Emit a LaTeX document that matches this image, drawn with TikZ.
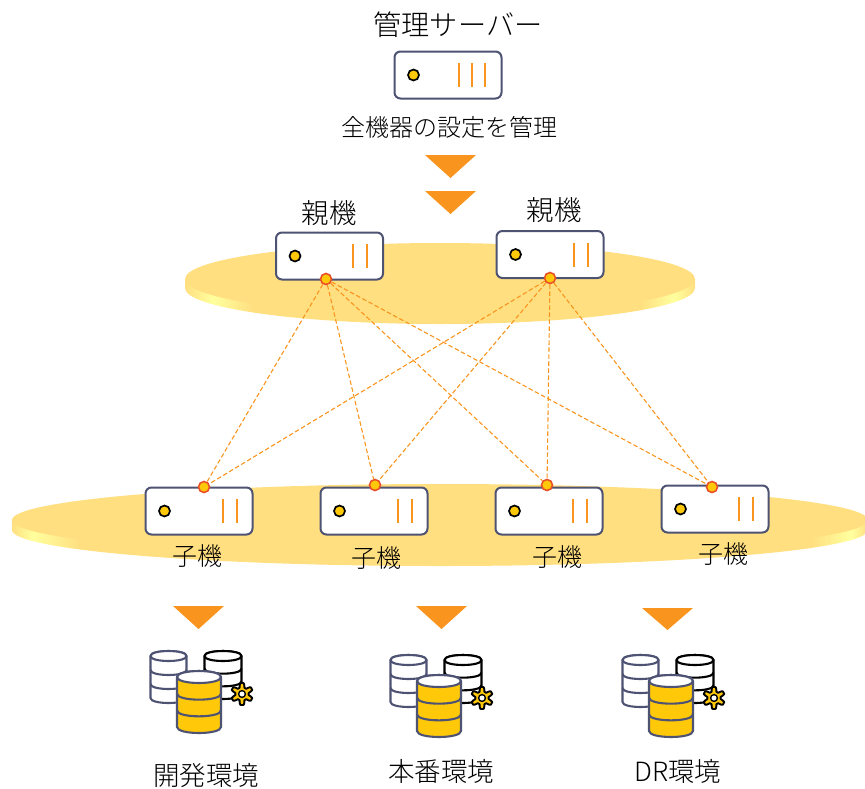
\documentclass[tikz,border=0pt]{standalone}
\usepackage{fontspec}
\setmainfont{Noto Sans CJK JP}[UprightFont=* Light]
\definecolor{diskc}{HTML}{FFDF80}
\definecolor{diskl}{HTML}{FFFF9E}
\definecolor{box}{HTML}{4F5373}
\definecolor{org}{HTML}{F9951F}
\definecolor{yel}{HTML}{FFC90A}
\definecolor{red1}{HTML}{E8502A}
\pgfdeclarehorizontalshading{diskA}{100bp}{color(0bp)=(diskc); color(25bp)=(diskc); color(27.7bp)=(diskl); color(31.7bp)=(diskc); color(69.6bp)=(diskc); color(73bp)=(diskl); color(75bp)=(diskc); color(100bp)=(diskc)}
\pgfdeclarehorizontalshading{diskB}{100bp}{color(0bp)=(diskc); color(25bp)=(diskc); color(26.2bp)=(diskl); color(29bp)=(diskc); color(71.7bp)=(diskc); color(74bp)=(diskl); color(75bp)=(diskc); color(100bp)=(diskc)}
\tikzset{
  srv/.style={draw=box,fill=white,line width=2pt,rounded corners=6pt,minimum width=107pt,minimum height=47pt,inner sep=0pt},
  leddot/.style={circle,draw=black,fill=yel,line width=1.7pt,minimum size=11pt,inner sep=0pt},
  link/.style={circle,draw=red1,fill=yel,line width=1.6pt,minimum size=11pt,inner sep=0pt},
  tick/.style={draw=org,line width=2pt},
  wire/.style={draw=org,line width=1.1pt,dash pattern=on 4.5pt off 2.5pt},
  tri/.style={fill=org},
  txt/.style={inner sep=0pt,text=black},
  big/.style={txt,font=\fontsize{26.5}{30}\selectfont},
  mid/.style={txt,font=\fontsize{24}{28}\selectfont},
  cyl/.style={line width=2.1pt,line join=round},
}
% name, cx, cy, list of tick offsets
\newcommand{\srvbox}[4]{%
  \node[srv] (#1) at (#2,#3) {};
  \node[leddot] (#1-led) at (#2-34.5,#3) {};
  \foreach \q in {#4} \draw[tick] (#2+\q,#3-12) -- (#2+\q,#3+12);
}
% cx, top, rx, ry, height, fill, stroke
\newcommand{\cylinder}[7]{%
  \path[cyl,fill=#6,draw=#7] (#1-#3,#2) -- (#1-#3,#2+#5)
    .. controls (#1-#3,#2+#5+1.33*#4) and (#1+#3,#2+#5+1.33*#4) .. (#1+#3,#2+#5)
    -- (#1+#3,#2) .. controls (#1+#3,#2-1.33*#4) and (#1-#3,#2-1.33*#4) .. (#1-#3,#2) -- cycle;
  \path[cyl,fill=white,draw=#7] (#1-#3,#2)
    .. controls (#1-#3,#2+1.33*#4) and (#1+#3,#2+1.33*#4) .. (#1+#3,#2)
    .. controls (#1+#3,#2-1.33*#4) and (#1-#3,#2-1.33*#4) .. (#1-#3,#2) -- cycle;
  \foreach \k in {1,2}
    \draw[cyl,draw=#7] (#1-#3,#2+\k*#5/3)
      .. controls (#1-#3,#2+\k*#5/3+1.33*#4) and (#1+#3,#2+\k*#5/3+1.33*#4) .. (#1+#3,#2+\k*#5/3);
}
% dx, dy
\newcommand{\dbicon}[2]{%
  \begin{scope}[shift={(#1,#2)}]
    \cylinder{168.5}{656}{18}{5}{42}{white}{box}
    \cylinder{223}{656}{18.5}{5}{38}{white}{black}
    \path[fill=yel,draw=black,line width=1.9pt,line join=round]
      plot[domain=0:360,samples=145] ({242+(8.8+2.2*max(-1,min(1,-1.6*cos(6*\x))))*cos(\x)},{694+(8.8+2.2*max(-1,min(1,-1.6*cos(6*\x))))*sin(\x)}) -- cycle;
    \draw[fill=white,draw=black,line width=1.4pt] (242,694) circle[radius=3.4];
    \cylinder{199}{677}{22}{6}{50}{yel}{box}
  \end{scope}
}
% cx, cy, rx, ry, thickness, shading
\newcommand{\diskside}[6]{%
  \shade[shading=#6] (#1-#3,#2) -- (#1-#3,#2+#5)
    .. controls (#1-#3,#2+#5+0.5523*#4) and (#1-0.5523*#3,#2+#5+#4) .. (#1,#2+#5+#4)
    .. controls (#1+0.5523*#3,#2+#5+#4) and (#1+#3,#2+#5+0.5523*#4) .. (#1+#3,#2+#5)
    -- (#1+#3,#2) -- cycle;
  \fill[diskc] (#1,#2) ellipse[x radius=#3,y radius=#4];
}
\begin{document}
\begin{tikzpicture}[x=1pt,y=-1pt]
\useasboundingbox (0,0) rectangle (865,788);
% disks
\diskside{440}{279}{255}{36}{9}{diskA}
\begin{scope}
\clip (0,0) rectangle (865,788);
\diskside{440}{520}{428}{36}{10}{diskB}
\end{scope}
% manager
\node[big,font=\fontsize{28.2}{32}\selectfont] (mgrT) at (458,25) {管理サーバー};
\srvbox{mgr}{448}{75}{11,24,37}
\node[mid] (mgrC) at (449,127) {全機器の設定を管理};
\fill[tri] (425,155) -- (476,155) -- (450.5,178) -- cycle;
\fill[tri] (425,191) -- (476,191) -- (450.5,214) -- cycle;
% parents
\node[big,font=\fontsize{27.5}{30}\selectfont] (pT1) at (329,213) {親機};
\node[big,font=\fontsize{27.5}{30}\selectfont] (pT2) at (554,210) {親機};
\srvbox{pa}{329.5}{256}{23.5,37.5}
\srvbox{pb}{550}{254.5}{23.5,37.5}
% children
\srvbox{ca}{199}{511}{23.5,37.5}
\srvbox{cb}{374}{511}{23.5,37.5}
\srvbox{cc}{549}{511}{23.5,37.5}
\srvbox{cd}{715}{509}{23.5,37.5}
\node[big,font=\fontsize{25}{28}\selectfont] (cT1) at (197,556) {子機};
\node[big,font=\fontsize{25}{28}\selectfont] (cT2) at (376,558) {子機};
\node[big,font=\fontsize{25}{28}\selectfont] (cT3) at (557,557) {子機};
\node[big,font=\fontsize{25}{28}\selectfont] (cT4) at (723,554) {子機};
% link points
\node[link] (p1) at (326,279) {};
\node[link] (p2) at (550,278) {};
\node[link] (c1) at (204,487) {};
\node[link] (c2) at (375,485) {};
\node[link] (c3) at (547,485) {};
\node[link] (c4) at (712,487) {};
\foreach \a in {p1,p2} \foreach \b in {c1,c2,c3,c4} \draw[wire] (\a) -- (\b);
% lower arrows
\fill[tri] (173,606) -- (224,606) -- (198.5,629) -- cycle;
\fill[tri] (416,606) -- (467,606) -- (441.5,629) -- cycle;
\fill[tri] (642,608) -- (693,608) -- (667.5,630) -- cycle;
% databases
\dbicon{0}{0}
\dbicon{240}{4}
\dbicon{472}{4}
\node[big] (e1) at (206,775) {開発環境};
\node[big] (e2) at (441,771) {本番環境};
\node[big] (e3) at (678,771) {DR環境};
\end{tikzpicture}
\end{document}
